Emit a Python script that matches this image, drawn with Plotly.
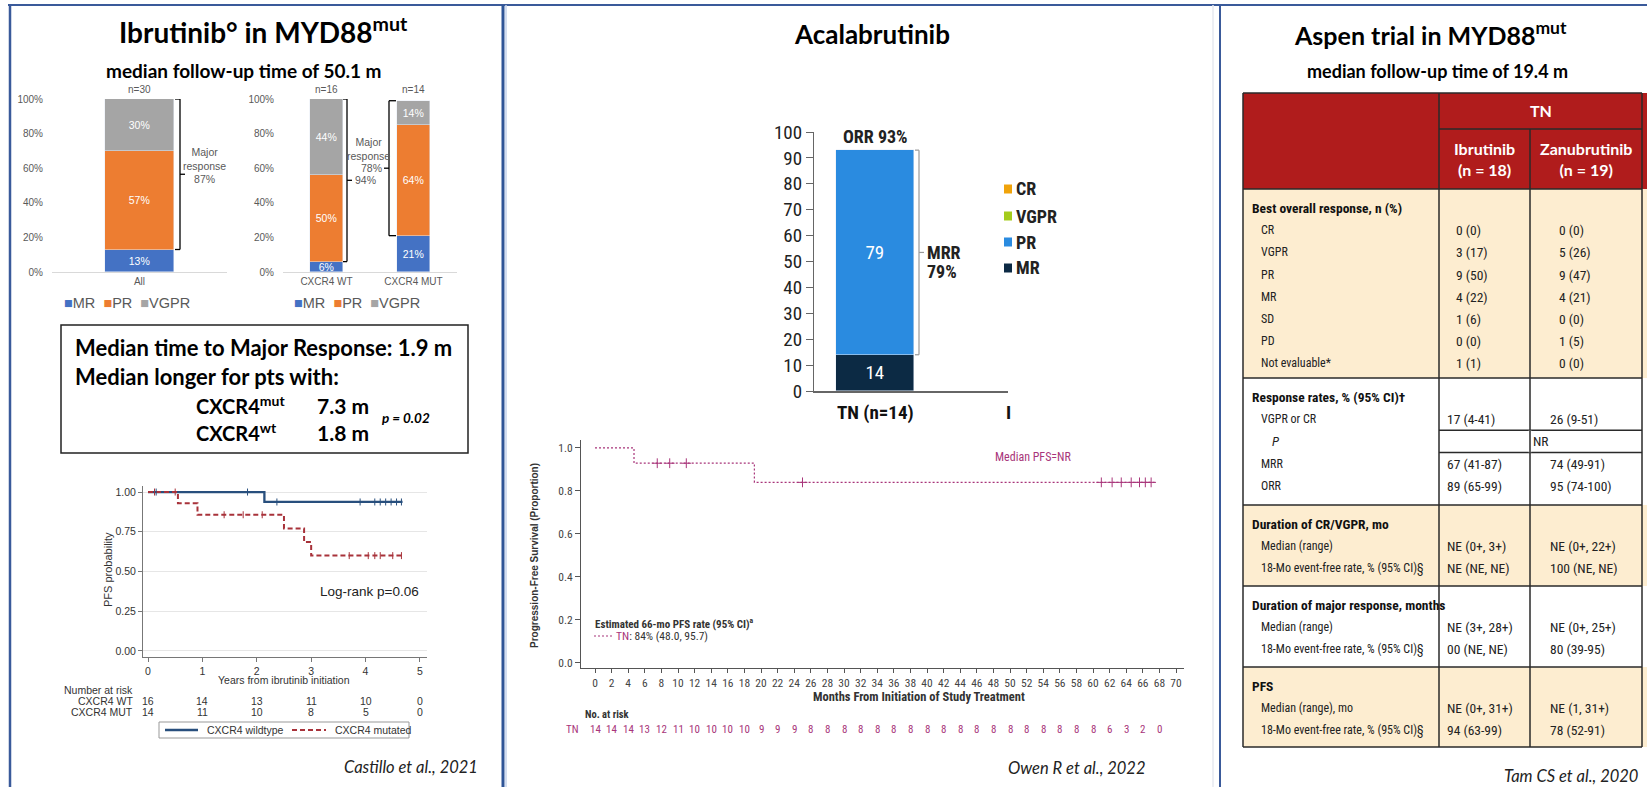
import plotly.graph_objects as go

W, H = 1647, 787


def px(x):
    return x / W


def py(y):
    return 1 - y / H


# ---------------- data ----------------
# Ibrutinib in MYD88mut: best response (%)
grp_all = ["All"]
grp_cxcr4 = ["CXCR4 WT", "CXCR4 MUT"]
mr_all, pr_all, vgpr_all = [13], [57], [30]
mr_cx, pr_cx, vgpr_cx = [6, 21], [50, 64], [44, 14]
n_all = ["n=30"]
n_cx = ["n=16", "n=14"]
major_all, major_wt, major_mut = 87, 94, 78
pct_ticks = [0, 20, 40, 60, 80, 100]

# Castillo PFS by CXCR4 status (years, probability)
km_ticks = [0, 1, 2, 3, 4, 5]
wt_t = [0, 2.14, 4.68]
wt_s = [1.0, 0.9375, 0.9375]
mut_t = [0, 0.55, 0.91, 2.50, 2.87, 3.00, 4.68]
mut_s = [1.0, 0.929, 0.857, 0.771, 0.685, 0.600, 0.600]
wt_cens = [0.15, 1.83, 2.37, 3.90, 4.17, 4.27, 4.37, 4.47, 4.57, 4.66]
mut_cens = [0.12, 0.50, 1.40, 1.75, 2.10, 3.70, 4.05, 4.17, 4.27, 4.50, 4.66]
risk_wt = [16, 14, 13, 11, 10, 0]
risk_mut = [14, 11, 10, 8, 5, 0]

# Acalabrutinib, treatment naive
acala_cat = ["TN (n=14)"]
acala_mr = [14]
acala_pr = [79]
acala_orr = 93
acala_mrr = 79

# Acalabrutinib PFS (months, proportion)
pfs_t = [0, 4.7, 19.2, 67.5]
pfs_s = [1.0, 0.929, 0.84, 0.84]
pfs_cens = [7.5, 9.0, 11.0, 25.0, 61.0, 62.3, 63.4, 64.6, 65.6, 66.3, 67.0]
month_ticks = [0, 2, 4, 6, 8, 10, 12, 14, 16, 18, 20, 22, 24, 26, 28, 30, 32, 34,
               36, 38, 40, 42, 44, 46, 48, 50, 52, 54, 56, 58, 60, 62, 64, 66, 68, 70]
risk_months = [0, 2, 4, 6, 8, 10, 12, 14, 16, 18, 20, 22, 24, 26, 28, 30, 32, 34,
               36, 38, 40, 42, 44, 46, 48, 50, 52, 54, 56, 58, 60, 62, 64, 66, 68]
risk_tn = [14, 14, 14, 13, 12, 11, 10, 10, 10, 10, 9, 9, 9, 8, 8, 8, 8, 8,
           8, 8, 8, 8, 8, 8, 8, 8, 8, 8, 8, 8, 8, 6, 3, 2, 0]

# ASPEN trial table
tbl_cols = ["Ibrutinib<br>(n = 18)", "Zanubrutinib<br>(n = 19)"]
tbl_headers = ["Best overall response, n (%)", "Response rates, % (95% CI)†",
               "Duration of CR/VGPR, mo", "Duration of major response, months", "PFS"]
tbl_rows = [
    [("CR", "0 (0)", "0 (0)"), ("VGPR", "3 (17)", "5 (26)"), ("PR", "9 (50)", "9 (47)"),
     ("MR", "4 (22)", "4 (21)"), ("SD", "1 (6)", "0 (0)"), ("PD", "0 (0)", "1 (5)"),
     ("Not evaluable*", "1 (1)", "0 (0)")],
    [("VGPR or CR", "17 (4-41)", "26 (9-51)"), ("P", "NR", None),
     ("MRR", "67 (41-87)", "74 (49-91)"), ("ORR", "89 (65-99)", "95 (74-100)")],
    [("Median (range)", "NE (0+, 3+)", "NE (0+, 22+)"),
     ("18-Mo event-free rate, % (95% CI)§", "NE (NE, NE)", "100 (NE, NE)")],
    [("Median (range)", "NE (3+, 28+)", "NE (0+, 25+)"),
     ("18-Mo event-free rate, % (95% CI)§", "00 (NE, NE)", "80 (39-95)")],
    [("Median (range), mo", "NE (0+, 31+)", "NE (1, 31+)"),
     ("18-Mo event-free rate, % (95% CI)§", "94 (63-99)", "78 (52-91)")],
]

# ---------------- styles ----------------
CAL = "Lato, Carlito, Calibri, sans-serif"
NAR = "Liberation Sans Narrow, Arial Narrow, Roboto Condensed, sans-serif"
ARI = "Liberation Sans, Arial, sans-serif"
C_MR, C_PR, C_VGPR = "#4472C4", "#ED7D31", "#A5A5A5"
A_MR, A_PR, A_CR, A_VGPR = "#0c2a44", "#2a8be0", "#f0a30a", "#a4cc1c"
KM_BLUE, KM_RED = "#284f7d", "#a8323a"
MAG = "#a8357a"
GRID = "#595959"

fig = go.Figure()
anns = []
shapes = []


def text(t, x, y, size, color="#000", family=CAL, xanchor="center", yanchor="middle",
         xref="paper", yref="paper", **kw):
    anns.append(dict(text=t, x=px(x) if xref == "paper" else x,
                     y=py(y) if yref == "paper" else y, xref=xref, yref=yref,
                     showarrow=False, xanchor=xanchor, yanchor=yanchor,
                     font=dict(size=size, color=color, family=family), **kw))


def line(x0, y0, x1, y1, color="#000", width=1, dash="solid", xref="paper", yref="paper"):
    shapes.append(dict(type="line", xref=xref, yref=yref,
                       x0=px(x0) if xref == "paper" else x0,
                       x1=px(x1) if xref == "paper" else x1,
                       y0=py(y0) if yref == "paper" else y0,
                       y1=py(y1) if yref == "paper" else y1,
                       line=dict(color=color, width=width, dash=dash)))


def rect(x0, y0, x1, y1, fill="rgba(0,0,0,0)", color="rgba(0,0,0,0)", width=0):
    shapes.append(dict(type="rect", xref="paper", yref="paper", x0=px(x0), x1=px(x1),
                       y0=py(y1), y1=py(y0), fillcolor=fill,
                       line=dict(color=color, width=width), layer="below"))


# ---------------- panel frames ----------------
line(8, 5, 1647, 5, "#3a5a9a", 2)
line(10, 5, 10, 787, "#3a5a9a", 2.5)
line(503, 5, 503, 787, "#2f5597", 3)
line(506, 5, 506, 787, "#c5d3ec", 1.5)
line(1213, 5, 1213, 787, "#e6e9ef", 1.5)
line(1220, 5, 1220, 787, "#3a5a9a", 2)

# ================= LEFT PANEL =================
text("<b>Ibrutinib° in MYD88<sup>mut</sup></b>", 263, 31, 28)
text("<b>median follow-up time of 50.1 m</b>", 244, 70, 19)


def stacked(xs, mr, pr, vgpr, ax, width):
    for vals, col in ((mr, C_MR), (pr, C_PR), (vgpr, C_VGPR)):
        fig.add_trace(go.Bar(x=xs, y=vals, marker_color=col, width=width,
                             text=[f"{v}%" for v in vals], textposition="inside",
                             insidetextanchor="middle", constraintext="none",
                             textfont=dict(color="white", size=10.5, family=ARI),
                             xaxis="x" + ax, yaxis="y" + ax, showlegend=False,
                             hoverinfo="skip"))


stacked(grp_all, mr_all, pr_all, vgpr_all, "", 0.394)
stacked(grp_cxcr4, mr_cx, pr_cx, vgpr_cx, "2", 0.39)

# sample sizes above bars
for g, n, s in zip(grp_all, n_all, [m + p + v for m, p, v in zip(mr_all, pr_all, vgpr_all)]):
    anns.append(dict(text=n, x=g, y=s, xref="x", yref="y", yshift=2, showarrow=False,
                     xanchor="center", yanchor="bottom", font=dict(size=10, color=GRID, family=ARI)))
for g, n in zip(grp_cxcr4, n_cx):
    anns.append(dict(text=n, x=g, y=100, xref="x2", yref="y2", yshift=2, showarrow=False,
                     xanchor="center", yanchor="bottom", font=dict(size=10, color=GRID, family=ARI)))

# major response brackets
top_all = mr_all[0] + pr_all[0] + vgpr_all[0]
line(180, top_all, 180, mr_all[0], "#000", 1.3, yref="y")
line(175, top_all, 180, top_all, "#000", 1.3, yref="y")
line(175, mr_all[0], 180, mr_all[0], "#000", 1.3, yref="y")
line(180, (top_all + mr_all[0]) / 2, 185, (top_all + mr_all[0]) / 2, "#000", 1.3, yref="y")
text(f"Major<br>response<br>{major_all}%", 204, 166, 10.5, GRID, ARI)

wt_top = mr_cx[0] + pr_cx[0] + vgpr_cx[0]
line(347, wt_top, 347, mr_cx[0], "#000", 1.3, yref="y2")
line(343, wt_top, 347, wt_top, "#000", 1.3, yref="y2")
line(343, mr_cx[0], 347, mr_cx[0], "#000", 1.3, yref="y2")
wt_mid = (wt_top + mr_cx[0]) / 2
line(347, wt_mid, 352, wt_mid, "#000", 1.3, yref="y2")
anns.append(dict(text=f"{major_wt}%", x=px(353), y=wt_mid, xref="paper", yref="y2",
                 xanchor="left", yanchor="middle", showarrow=False,
                 font=dict(size=10.5, color=GRID, family=ARI)))

mut_top = mr_cx[1] + pr_cx[1] + vgpr_cx[1]
line(389, mut_top, 389, mr_cx[1], "#000", 1.3, yref="y2")
line(389, mut_top, 396, mut_top, "#000", 1.3, yref="y2")
line(389, mr_cx[1], 396, mr_cx[1], "#000", 1.3, yref="y2")
mut_mid = (mut_top + mr_cx[1]) / 2
line(384, mut_mid, 389, mut_mid, "#000", 1.3, yref="y2")
anns.append(dict(text=f"{major_mut}%", x=px(384), y=mut_mid, xref="paper", yref="y2",
                 xanchor="right", yanchor="middle", showarrow=False,
                 font=dict(size=10.5, color=GRID, family=ARI)))
text("Major<br>response", 368, 149, 10.5, GRID, ARI)

legend_html = (f"<span style='color:{C_MR}'>■</span>MR  <span style='color:{C_PR}'>■</span>PR  "
               f"<span style='color:{C_VGPR}'>■</span>VGPR")
text(legend_html, 62, 303, 14.5, GRID, ARI, xanchor="left")
text(legend_html, 292, 303, 14.5, GRID, ARI, xanchor="left")

# time-to-response box
rect(61, 325, 468, 453, color="#222", width=1.5)
text("<b>Median time to Major Response: 1.9 m</b>", 73, 347, 22, xanchor="left")
text("<b>Median longer for pts with:</b>", 73, 377, 22, xanchor="left")
text("<b>CXCR4<sup>mut</sup></b>", 194, 405, 20, xanchor="left")
text("<b>7.3 m</b>", 315, 405, 21, xanchor="left")
text("<b>CXCR4<sup>wt</sup></b>", 194, 432, 20, xanchor="left")
text("<b>1.8 m</b>", 315, 432, 21, xanchor="left")
text("<b><i>p = 0.02</i></b>", 380, 418, 13.5, xanchor="left")

# Castillo KM curves
fig.add_trace(go.Scatter(x=wt_t, y=wt_s, mode="lines", line=dict(shape="hv", color=KM_BLUE, width=2.3),
                         xaxis="x3", yaxis="y3", showlegend=False, hoverinfo="skip"))
fig.add_trace(go.Scatter(x=mut_t, y=mut_s, mode="lines",
                         line=dict(shape="hv", color=KM_RED, width=2, dash="5px,3px"),
                         xaxis="x3", yaxis="y3", showlegend=False, hoverinfo="skip"))


def step_at(ts, ss, t):
    v = ss[0]
    for ti, si in zip(ts, ss):
        if ti <= t:
            v = si
    return v


fig.add_trace(go.Scatter(x=wt_cens, y=[step_at(wt_t, wt_s, t) for t in wt_cens], mode="markers",
                         marker=dict(symbol="line-ns", size=5, line=dict(color=KM_BLUE, width=1)),
                         xaxis="x3", yaxis="y3", showlegend=False, hoverinfo="skip"))
fig.add_trace(go.Scatter(x=mut_cens, y=[step_at(mut_t, mut_s, t) for t in mut_cens], mode="markers",
                         marker=dict(symbol="line-ns", size=5, line=dict(color=KM_RED, width=1)),
                         xaxis="x3", yaxis="y3", showlegend=False, hoverinfo="skip"))

text("PFS probability", 108, 570, 11, "#333", ARI, textangle=-90)
text("Log-rank p=0.06", 369, 591, 13.5, "#222", ARI)
text("Years from ibrutinib initiation", 284, 680, 10.5, "#333", ARI)
text("Number at risk", 135, 690, 10.5, "#333", ARI, xanchor="right")
text("CXCR4 WT", 135, 701, 10.5, "#333", ARI, xanchor="right")
text("CXCR4 MUT", 135, 712, 10.5, "#333", ARI, xanchor="right")
for t, a, b in zip(km_ticks, risk_wt, risk_mut):
    text(str(a), t, 701, 10.5, "#333", ARI, xref="x3")
    text(str(b), t, 712, 10.5, "#333", ARI, xref="x3")
rect(159, 722, 409, 738, color="#999", width=1)
line(165, 730, 198, 730, KM_BLUE, 2.3)
text("CXCR4 wildtype", 205, 730, 10.5, "#333", ARI, xanchor="left")
line(292, 730, 326, 730, KM_RED, 2, "5px,3px")
text("CXCR4 mutated", 333, 730, 10.5, "#333", ARI, xanchor="left")

text("<i>Castillo et al., 2021</i>", 480, 767, 16.5, "#222", xanchor="right")

# ================= MIDDLE PANEL =================
text("<b>Acalabrutinib</b>", 872, 34, 26)

for vals, col in ((acala_mr, A_MR), (acala_pr, A_PR)):
    fig.add_trace(go.Bar(x=[0], y=vals, width=1, marker_color=col, text=[str(v) for v in vals],
                         textposition="inside", insidetextanchor="middle", constraintext="none",
                         textfont=dict(color="white", size=19, family=NAR),
                         xaxis="x4", yaxis="y4", showlegend=False, hoverinfo="skip"))
anns.append(dict(text=f"<b>ORR {acala_orr}%</b>", x=0, y=acala_orr, xref="x4", yref="y4",
                 xanchor="center", yanchor="middle", yshift=14, showarrow=False,
                 font=dict(size=18, color="#222", family=NAR)))
text(f"<b>{acala_cat[0]}</b>", 0, 412, 19, "#111", NAR, xref="x4")
text("<b>I</b>", 1008, 412, 19, "#111", NAR)

# MRR bracket
ab_top = acala_mr[0] + acala_pr[0]
ab_mid = (ab_top + acala_mr[0]) / 2
line(919, ab_top, 919, acala_mr[0], "#999", 1.2, yref="y4")
line(915, ab_top, 919, ab_top, "#999", 1.2, yref="y4")
line(915, acala_mr[0], 919, acala_mr[0], "#999", 1.2, yref="y4")
line(919, ab_mid, 924, ab_mid, "#999", 1.2, yref="y4")
anns.append(dict(text="<b>MRR</b>", x=px(925), y=ab_mid, xref="paper", yref="y4", xanchor="left",
                 yanchor="middle", showarrow=False, font=dict(size=18, color="#222", family=NAR)))
anns.append(dict(text=f"<b>{acala_mrr}%</b>", x=px(925), y=ab_mid, yshift=-19, xref="paper", yref="y4",
                 xanchor="left", yanchor="middle", showarrow=False,
                 font=dict(size=18, color="#222", family=NAR)))

# legend for response categories
for lab, col, yy in (("CR", A_CR, 189), ("VGPR", A_VGPR, 216), ("PR", A_PR, 242), ("MR", A_MR, 268)):
    rect(1004, yy - 4.5, 1012, yy + 4.5, fill=col)
    text(f"<b>{lab}</b>", 1014, yy, 18, "#222", NAR, xanchor="left")

# Acalabrutinib PFS
fig.add_trace(go.Scatter(x=pfs_t, y=pfs_s, mode="lines",
                         line=dict(shape="hv", color=MAG, width=1.2, dash="2px,2px"),
                         xaxis="x5", yaxis="y5", showlegend=False, hoverinfo="skip"))
fig.add_trace(go.Scatter(x=pfs_cens, y=[step_at(pfs_t, pfs_s, t) for t in pfs_cens], mode="markers",
                         marker=dict(symbol="cross-thin", size=7, line=dict(color=MAG, width=1)),
                         xaxis="x5", yaxis="y5", showlegend=False, hoverinfo="skip"))
text("<b>Progression-Free Survival (Proportion)</b>", 534, 556, 10, "#333", ARI, textangle=-90)
text("Median PFS=NR", 1033, 457, 12, MAG, NAR)
text("<b>Estimated 66-mo PFS rate (95% CI)<sup>a</sup></b>", 593, 623, 11, "#333", NAR, xanchor="left")
line(594, 636, 612, 636, MAG, 1.2, "2px,2px")
text(f"<span style='color:{MAG}'>TN</span>: 84% (48.0, 95.7)", 614, 636, 11.5, "#333", NAR, xanchor="left")
text("<b>Months From Initiation of Study Treatment</b>", 919, 696, 12.5, "#333", NAR)
text("<b>No. at risk</b>", 583, 714, 10.5, "#333", NAR, xanchor="left")
text("TN", 572, 729, 11, MAG, NAR)
for m, r in zip(risk_months, risk_tn):
    text(str(r), m, 729, 11, MAG, NAR, xref="x5")
text("<i>Owen R et al., 2022</i>", 1148, 768, 16.5, "#222", xanchor="right")

# ================= RIGHT PANEL =================
text("<b>Aspen trial in MYD88<sup>mut</sup></b>", 1430, 34, 25)
text("<b>median follow-up time of 19.4 m</b>", 1437, 71, 18)

TBL_L, TBL_C1, TBL_C2, TBL_R = 1243, 1439, 1530, 1642
HEAD_T, HEAD_M, HEAD_B = 93, 129, 189
SEC_EDGES = [189, 378, 505, 586, 667, 747]
SEC_FILL = ["#fdedd0", "#ffffff", "#fdedd0", "#ffffff", "#fdedd0"]
ROW_STEP = 22.2
LINE_C = "#2a2a2a"
RED = "#b01c1c"

rect(TBL_L, HEAD_T, 1647, HEAD_B, fill=RED)
text("<b>TN</b>", (TBL_C1 + TBL_R) / 2, 111, 16, "white")
text(f"<b>{tbl_cols[0]}</b>", (TBL_C1 + TBL_C2) / 2, 159, 16, "white")
text(f"<b>{tbl_cols[1]}</b>", (TBL_C2 + TBL_R) / 2, 159, 16, "white")

for si, (hdr, rows) in enumerate(zip(tbl_headers, tbl_rows)):
    top, bot = SEC_EDGES[si], SEC_EDGES[si + 1]
    rect(TBL_L, top, 1647, bot, fill=SEC_FILL[si])
    hy = top + 19
    text(f"<b>{hdr}</b>", 1250, hy, 13.5, "#111", NAR, xanchor="left")
    c1x, c2x = (1454, 1557) if si == 0 else (1445, 1548)
    for ri, (lab, v1, v2) in enumerate(rows):
        ry = hy + ROW_STEP * (ri + 1)
        if v2 is None:
            text(f"<i>{lab}</i>", 1270, ry, 13, "#222", NAR, xanchor="left")
            text(v1, (TBL_C1 + TBL_R) / 2, ry, 13.5, "#222", NAR)
            y_a, y_b = ry - ROW_STEP / 2, ry + ROW_STEP / 2
            line(TBL_C1, y_a, TBL_R, y_a, LINE_C, 1.5)
            line(TBL_C1, y_b, TBL_R, y_b, LINE_C, 1.5)
            line(TBL_C2, y_a, TBL_C2, y_b, "white", 2.5)
        else:
            text(lab, 1259, ry, 12, "#222", NAR, xanchor="left")
            text(v1, c1x, ry, 13.5, "#222", NAR, xanchor="left")
            text(v2, c2x, ry, 13.5, "#222", NAR, xanchor="left")

# table rules
for yy in [HEAD_T] + SEC_EDGES:
    line(TBL_L, yy, TBL_R, yy, LINE_C, 1.5)
line(TBL_C1, HEAD_M, TBL_R, HEAD_M, LINE_C, 1.5)
line(TBL_L, HEAD_T, TBL_L, SEC_EDGES[-1], LINE_C, 1.5)
line(TBL_C1, HEAD_T, TBL_C1, SEC_EDGES[-1], LINE_C, 1.5)
line(TBL_C2, HEAD_M, TBL_C2, SEC_EDGES[-1], LINE_C, 1.5)
line(TBL_R, HEAD_T, TBL_R, SEC_EDGES[-1], LINE_C, 1.5)

text("<i>Tam CS et al., 2020</i>", 1640, 776, 16.5, "#222", xanchor="right")

# ---------------- axes ----------------
bar_tick = dict(size=10, color=GRID, family=ARI)
y_bar_dom = [py(272), py(99)]
pct_text = [f"{v}%" for v in pct_ticks]
fig.update_layout(
    width=W, height=H, margin=dict(l=0, r=0, t=0, b=0, autoexpand=False),
    paper_bgcolor="white", plot_bgcolor="rgba(0,0,0,0)",
    barmode="stack", showlegend=False, bargap=0,
    annotations=anns, shapes=shapes,
    xaxis=dict(domain=[px(52), px(227)], type="category", range=[-0.5, 0.5], showline=True,
               linecolor="#d9d9d9", ticks="", tickfont=bar_tick, anchor="y", automargin=False),
    yaxis=dict(domain=y_bar_dom, range=[0, 100], tickvals=pct_ticks, ticktext=pct_text,
               showgrid=False, zeroline=False, tickfont=bar_tick, anchor="x", automargin=False,
               ticks="outside", ticklen=6, tickcolor="rgba(0,0,0,0)"),
    xaxis2=dict(domain=[px(283), px(457)], type="category", range=[-0.5, 1.5], showline=True,
                linecolor="#d9d9d9", ticks="", tickfont=bar_tick, anchor="y2", automargin=False),
    yaxis2=dict(domain=y_bar_dom, range=[0, 100], tickvals=pct_ticks, ticktext=pct_text,
                showgrid=False, zeroline=False, tickfont=bar_tick, anchor="x2", automargin=False,
                ticks="outside", ticklen=6, tickcolor="rgba(0,0,0,0)"),
    xaxis3=dict(domain=[px(143), px(427)], range=[-0.092, 5.13], tickvals=km_ticks, showline=True,
                linecolor="#777", ticks="outside", ticklen=4, tickcolor="#777", showgrid=False,
                zeroline=False, tickfont=dict(size=10.5, color="#333", family=ARI), anchor="y3",
                automargin=False),
    yaxis3=dict(domain=[py(657), py(486)], range=[-0.038, 1.038], tickvals=[0, 0.25, 0.5, 0.75, 1.0],
                tickformat=".2f", showline=True, linecolor="#777", ticks="outside", ticklen=4,
                tickcolor="#777", showgrid=True, gridcolor="#e6e6e6", zeroline=False,
                tickfont=dict(size=10.5, color="#333", family=ARI), anchor="x3", automargin=False),
    xaxis4=dict(domain=[px(814), px(1008)], range=[-0.782, 1.705], showticklabels=False, showline=True,
                linecolor="#666", linewidth=1.5, showgrid=False, zeroline=False, ticks="", anchor="y4",
                automargin=False),
    yaxis4=dict(domain=[py(391), py(132)], range=[0, 100], tickvals=list(range(0, 101, 10)),
                showline=True, linecolor="#666", linewidth=1.2, ticks="outside", ticklen=7,
                tickcolor="#666", showgrid=False, zeroline=False,
                tickfont=dict(size=19, color="#222", family=NAR), anchor="x4", automargin=False),
    xaxis5=dict(domain=[px(581), px(1184)], range=[-1.687, 70.96], tickvals=month_ticks, showline=True,
                linecolor="#555", ticks="outside", ticklen=4, tickcolor="#555", showgrid=False,
                zeroline=False, tickfont=dict(size=11.5, color="#444", family=NAR), anchor="y5",
                automargin=False),
    yaxis5=dict(domain=[py(668), py(440)], range=[-0.0233, 1.037], tickvals=[0, 0.2, 0.4, 0.6, 0.8, 1.0],
                tickformat=".1f", showline=True, linecolor="#555", ticks="outside", ticklen=5,
                tickcolor="#555", showgrid=False, zeroline=False,
                tickfont=dict(size=11.5, color="#444", family=NAR), anchor="x5", automargin=False),
)

fig.write_html("out.html")
